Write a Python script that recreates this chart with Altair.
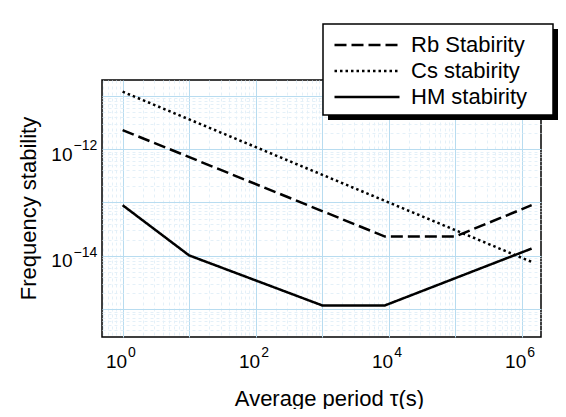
import altair as alt
import pandas as pd

# ---- data ----
series_names = ["Rb Stabirity", "Cs stabirity", "HM stabirity"]
rb_tau = [1, 8.8e3, 1.0e5, 1.41e6]
rb_val = [2.27e-12, 2.3e-14, 2.3e-14, 8.9e-14]
cs_tau = [1, 1.41e6]
cs_val = [1.19e-11, 7.7e-15]
hm_tau = [1, 10, 1.0e3, 8.8e3, 1.41e6]
hm_val = [8.9e-14, 1.02e-14, 1.18e-15, 1.18e-15, 1.37e-14]

x_label_values = [1, 1e2, 1e4, 1e6]
x_exponents = ["0", "2", "4", "6"]
y_label_values = [1e-12, 1e-14]
y_exponents = ["\u221212", "\u221214"]

x_domain = [0.49, 1.95e6]
y_domain = [3.02e-16, 1.97e-11]

FONT = "Liberation Sans"

df = pd.DataFrame({
    "tau": rb_tau + cs_tau + hm_tau,
    "value": rb_val + cs_val + hm_val,
    "series": [series_names[0]] * len(rb_tau)
    + [series_names[1]] * len(cs_tau)
    + [series_names[2]] * len(hm_tau),
})
x_exp_df = pd.DataFrame({"tau": x_label_values, "exp": x_exponents})
y_exp_df = pd.DataFrame({"value": y_label_values, "exp": y_exponents})


def ticks(lo, hi, e0, e1):
    out = []
    for e in range(e0, e1 + 1):
        for m in range(1, 10):
            v = m * 10.0 ** e
            if lo <= v <= hi:
                out.append(v)
    return out


def label_expr(vals):
    tests = " || ".join(f"abs(datum.value/{v!r}-1)<1e-6" for v in vals)
    return f"({tests}) ? '10' : ''"


decade = "abs(log(datum.value)/LN10 - round(log(datum.value)/LN10)) < 1e-6"
grid_color = {"condition": {"test": decade, "value": "#b8dcf0"}, "value": "#e4f0f8"}
grid_dash = {"condition": {"test": decade, "value": []}, "value": [3, 3]}

x_scale = alt.Scale(type="log", domain=x_domain, nice=False)
y_scale = alt.Scale(type="log", domain=y_domain, nice=False)

x_axis = alt.Axis(
    values=ticks(*x_domain, -1, 6),
    labelExpr=label_expr(x_label_values),
    grid=True, gridColor=grid_color, gridDash=grid_dash, gridWidth=1,
    ticks=False, domain=False,
    labelFont=FONT, labelFontSize=19, labelColor="black", labelPadding=30,
    labelBaseline="alphabetic", labelAlign="right", labelOffset=4,
    labelFlush=False, labelOverlap=False,
    title="Average period \u03c4(s)", titleFont=FONT, titleFontSize=22,
    titleFontWeight="normal", titleColor="black",
    titleX=227, titleY=68, titleBaseline="alphabetic",
)
y_axis = alt.Axis(
    values=ticks(*y_domain, -16, -11),
    labelExpr=label_expr(y_label_values),
    grid=True, gridColor=grid_color, gridDash=grid_dash, gridWidth=1,
    ticks=False, domain=False,
    labelFont=FONT, labelFontSize=19, labelColor="black", labelPadding=30,
    labelAlign="right", labelBaseline="alphabetic", labelOffset=11,
    labelFlush=False, labelOverlap=False,
    title="Frequency stability", titleFont=FONT, titleFontSize=22,
    titleFontWeight="normal", titleColor="black",
    titleX=-74, titleY=128, titleBaseline="middle",
)

legend = alt.Legend(
    title=None, orient="none", legendX=221, legendY=-56, padding=10,
    symbolType="M-6.5,0H6.5", symbolSize=100, symbolStrokeWidth=2.5,
    symbolStrokeColor="black", symbolOffset=23,
    labelOffset=33, labelFontSize=22, labelFont=FONT, labelColor="black",
    rowPadding=4, labelLimit=400,
)

lines = alt.Chart(df).mark_line(color="black", strokeWidth=2.5).encode(
    x=alt.X("tau:Q", scale=x_scale, axis=x_axis),
    y=alt.Y("value:Q", scale=y_scale, axis=y_axis),
    strokeDash=alt.StrokeDash(
        "series:N",
        scale=alt.Scale(domain=series_names, range=[[12, 5], [2.5, 3], [1, 0]]),
        legend=legend,
    ),
)

x_exp = alt.Chart(x_exp_df).mark_text(
    font=FONT, fontSize=14, color="black", align="left", baseline="alphabetic", dx=5.5
).encode(
    x=alt.X("tau:Q", scale=x_scale, axis=x_axis),
    y=alt.value(276.7),
    text="exp:N",
)
y_exp = alt.Chart(y_exp_df).mark_text(
    font=FONT, fontSize=14, color="black", align="left", baseline="alphabetic", dy=1
).encode(
    x=alt.value(-28.4),
    y=alt.Y("value:Q", scale=y_scale, axis=y_axis),
    text="exp:N",
)

one = pd.DataFrame({"k": [0]})
shadow = alt.Chart(one).mark_rect(color="black").encode(
    x=alt.value(226), x2=alt.value(456), y=alt.value(-51), y2=alt.value(40)
)
box = alt.Chart(one).mark_rect(fill="white", stroke="black", strokeWidth=1.5).encode(
    x=alt.value(221), x2=alt.value(451), y=alt.value(-56), y2=alt.value(35)
)

chart = (
    alt.layer(shadow, box, lines, x_exp, y_exp)
    .properties(
        width=439, height=257,
        autosize=alt.AutoSizeParams(type="none"),
        padding={"left": 94, "top": 72, "right": 17, "bottom": 72},
        background="white",
    )
    .configure_view(stroke="black", strokeWidth=1.5)
)

chart.save("out.html", embed_options={"renderer": "svg", "actions": False})
